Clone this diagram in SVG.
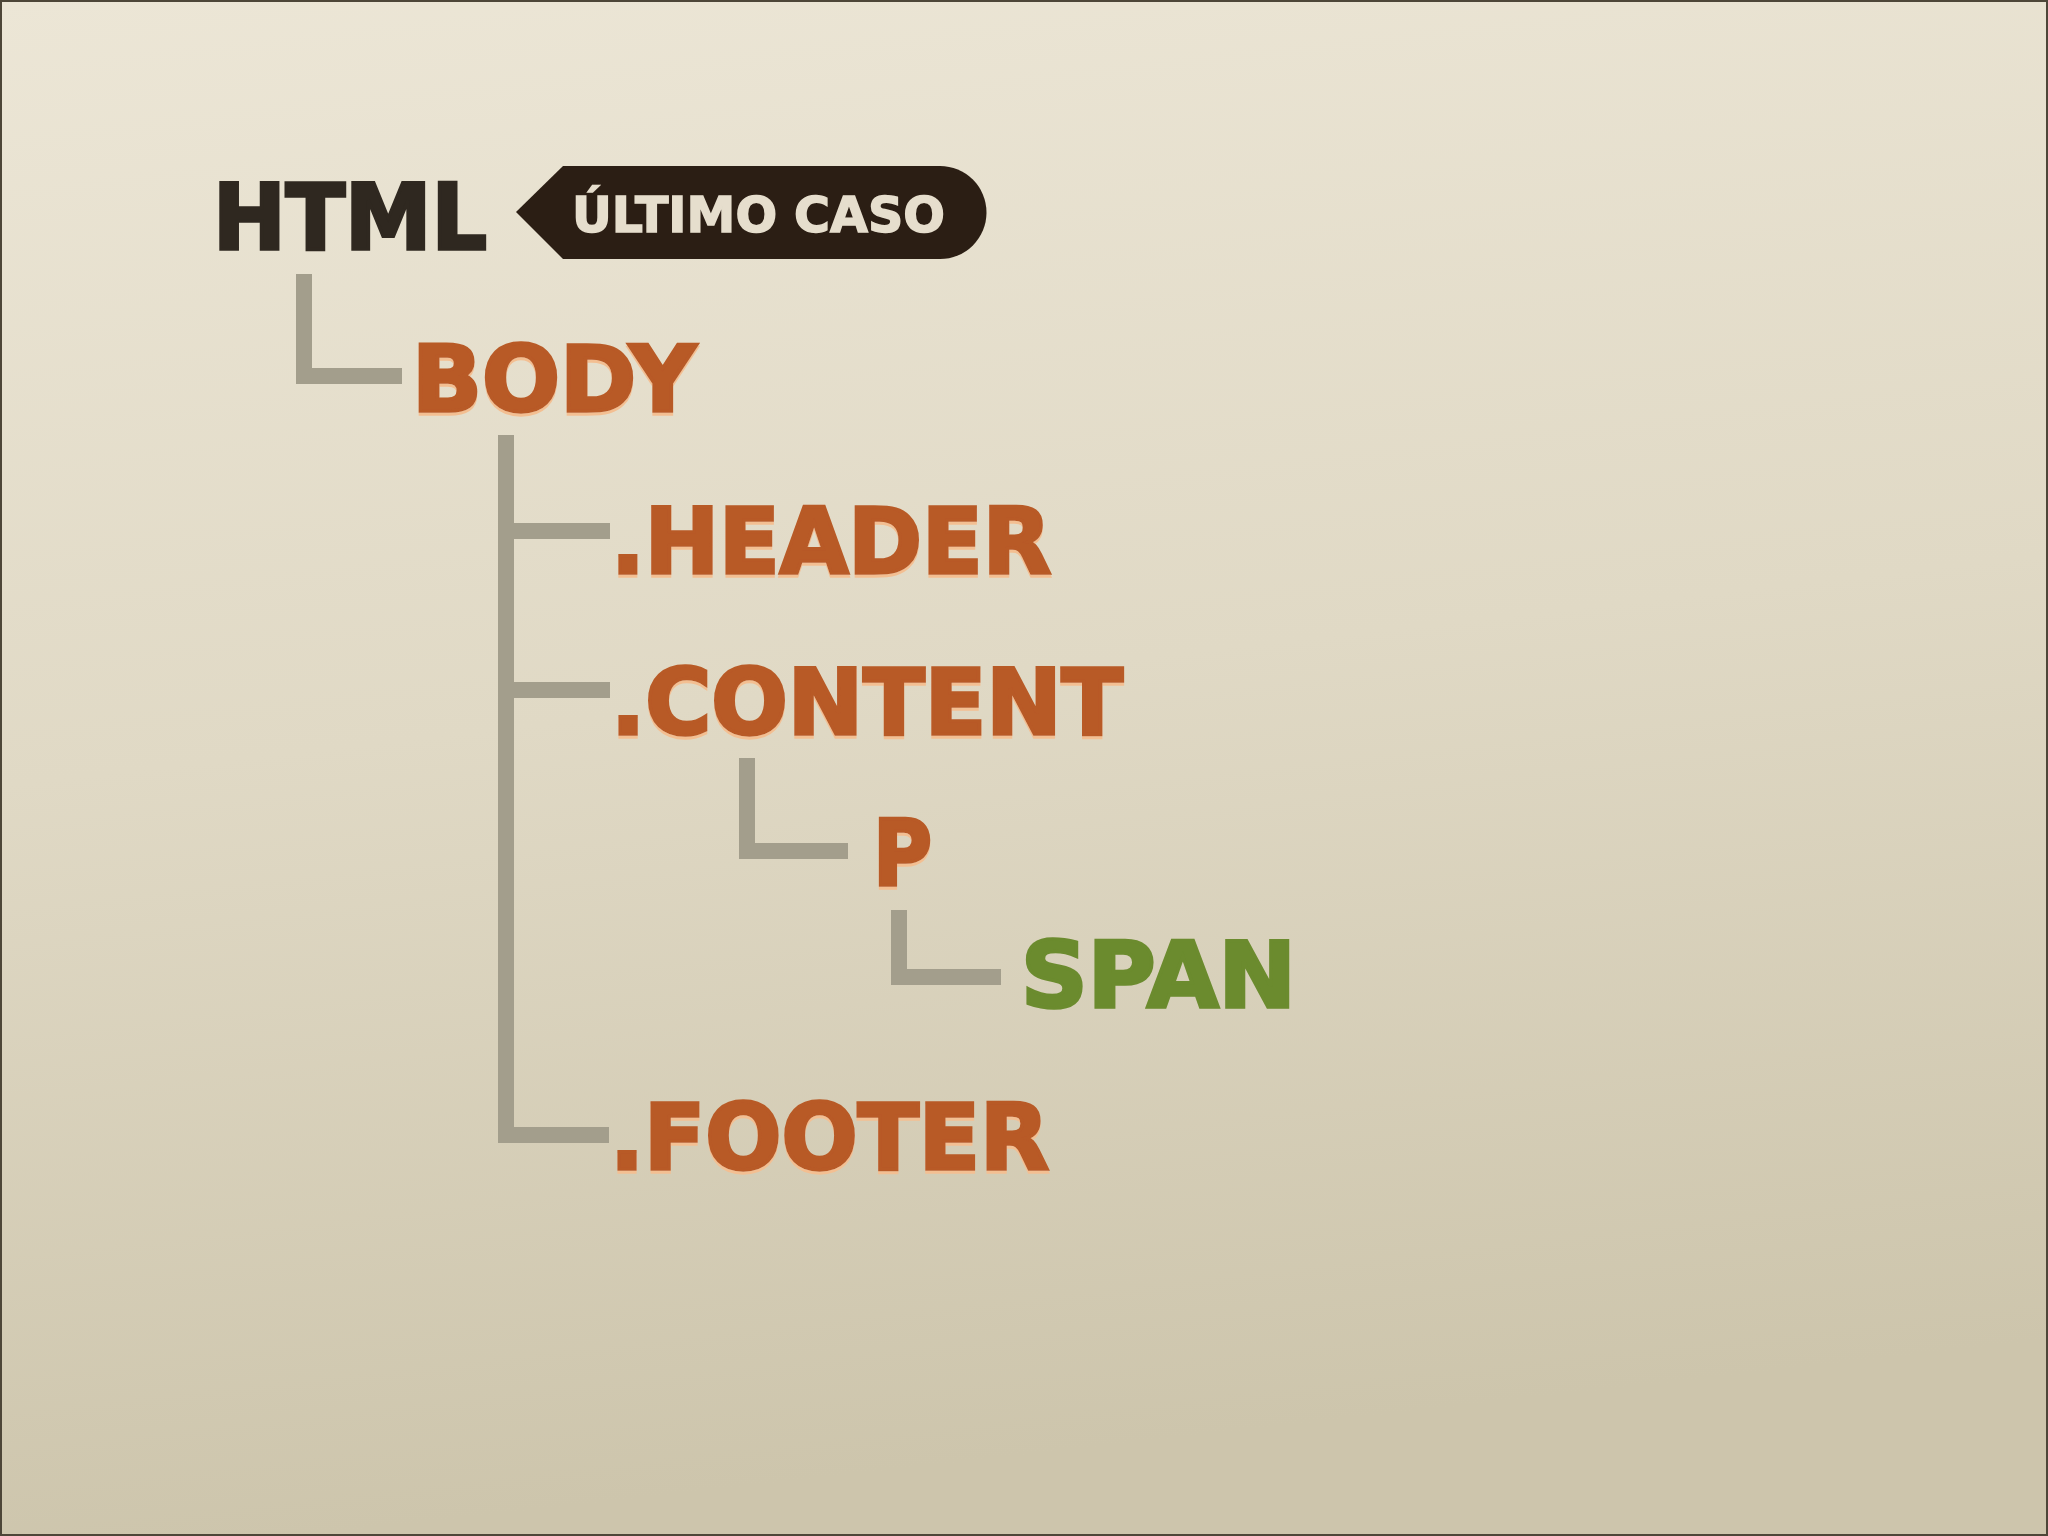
<svg xmlns="http://www.w3.org/2000/svg" width="2048" height="1536" viewBox="0 0 2048 1536">
  <defs>
    <linearGradient id="bg" x1="0" y1="0" x2="0.15" y2="1">
      <stop offset="0" stop-color="#ece6d6"/>
      <stop offset="0.5" stop-color="#e0d9c5"/>
      <stop offset="1" stop-color="#cdc5ac"/>
    </linearGradient>
    <filter id="lift" x="-5%" y="-10%" width="110%" height="130%">
      <feOffset in="SourceAlpha" dy="3" result="o"/>
      <feFlood flood-color="#f3bf92"/>
      <feComposite in2="o" operator="in" result="s"/>
      <feMerge><feMergeNode in="s"/><feMergeNode in="SourceGraphic"/></feMerge>
    </filter>
    <style>
      .t { font-family: "DejaVu Sans", "Liberation Sans", Arial, sans-serif; font-weight: bold; font-size: 91px; stroke-width: 3.5px; stroke-linejoin: miter; }
      .dark { fill: #2f2820; stroke: #2f2820; }
      .orange { fill: #b85a26; stroke: #b85a26; filter: url(#lift); }
      .green { fill: #6b8b2e; stroke: #6b8b2e; }
      .tag { font-family: "DejaVu Sans", "Liberation Sans", Arial, sans-serif; font-weight: bold; font-size: 50px; fill: #e6decd; stroke: #e6decd; stroke-width: 1.5px; }
      .line { fill: none; stroke: #a39e8c; stroke-width: 16; stroke-linecap: butt; stroke-linejoin: miter; }
    </style>
  </defs>
  <rect x="0" y="0" width="2048" height="1536" fill="url(#bg)"/>
  <rect x="1" y="1" width="2046" height="1534" fill="none" stroke="#4d4638" stroke-width="2"/>

  <g id="connectors">
    <path class="line" d="M304 274 V376 H402"/>
    <path class="line" d="M506 435 V1135 H609"/>
    <path class="line" d="M506 531 H610"/>
    <path class="line" d="M506 690 H610"/>
    <path class="line" d="M747 758 V851 H848"/>
    <path class="line" d="M899 910 V977 H1001"/>
  </g>

  <g id="node-html">
    <text class="t dark" x="213" y="249" textLength="274" lengthAdjust="spacingAndGlyphs">HTML</text>
  </g>
  <g id="node-tag">
    <path d="M516 212 L563 166 H940 A46.5 46.5 0 0 1 940 259 H563 Z" fill="#2b1e14"/>
    <text class="tag" x="572" y="232" textLength="373" lengthAdjust="spacingAndGlyphs">ÚLTIMO CASO</text>
  </g>
  <g id="node-body">
    <text class="t orange" x="412" y="411" textLength="284" lengthAdjust="spacingAndGlyphs">BODY</text>
  </g>
  <g id="node-header">
    <text class="t orange" x="611" y="573" textLength="440" lengthAdjust="spacingAndGlyphs">.HEADER</text>
  </g>
  <g id="node-content">
    <text class="t orange" x="611" y="734" textLength="512" lengthAdjust="spacingAndGlyphs">.CONTENT</text>
  </g>
  <g id="node-p">
    <text class="t orange" x="873" y="885" textLength="59" lengthAdjust="spacingAndGlyphs">P</text>
  </g>
  <g id="node-span">
    <text class="t green" x="1021" y="1007" textLength="275" lengthAdjust="spacingAndGlyphs">SPAN</text>
  </g>
  <g id="node-footer">
    <text class="t orange" x="610" y="1169" textLength="439" lengthAdjust="spacingAndGlyphs">.FOOTER</text>
  </g>
</svg>
